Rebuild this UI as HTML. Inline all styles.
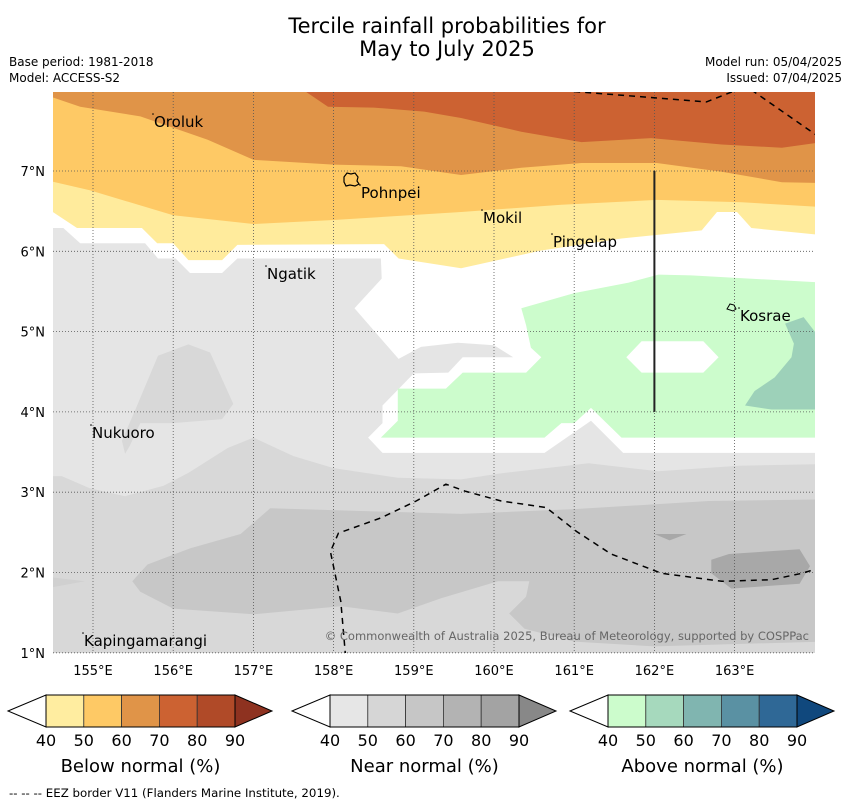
<!DOCTYPE html>
<html><head><meta charset="utf-8"><style>
html,body{margin:0;padding:0;background:#fff;}
svg{display:block;font-family:"DejaVu Sans","Liberation Sans",sans-serif;}
</style></head><body>
<svg id="chart" width="850" height="804" viewBox="0 0 850 804" xmlns="http://www.w3.org/2000/svg">
<defs><clipPath id="mapclip"><rect x="53" y="92" width="762" height="561"/></clipPath></defs>
<text x="447" y="33" font-size="21" text-anchor="middle">Tercile rainfall probabilities for</text>
<text x="447" y="56" font-size="21" text-anchor="middle">May to July 2025</text>
<text x="9" y="66" font-size="12">Base period: 1981-2018</text>
<text x="9" y="82" font-size="12">Model: ACCESS-S2</text>
<text x="842" y="66" font-size="12" text-anchor="end">Model run: 05/04/2025</text>
<text x="842" y="82" font-size="12" text-anchor="end">Issued: 07/04/2025</text>
<g id="map" clip-path="url(#mapclip)"></g>
<g id="grid"></g>
<g id="overlay"></g>
<g id="axes"></g>
<g id="cbars"></g>
<text x="9" y="797" font-size="11.8">--  --  -- EEZ border V11 (Flanders Marine Institute, 2019).</text>
</svg>
<script>
const lonTicks = [155,156,157,158,159,160,161,162,163];
const latTicks = [1,2,3,4,5,6,7];
const cbTicks = [40,50,60,70,80,90];
const belowColors = ["#ffeda0","#fec965","#e09448","#cc6232","#b04a28","#8e3220"];
const nearColors = ["#e6e6e6","#d6d6d6","#c6c6c6","#b3b3b3","#a3a3a3","#888888"];
const aboveColors = ["#ccfccc","#a6d9bd","#80b5b0","#5a91a3","#2f6896","#10487d"];
// contour polygons in [lon, lat]
const greyLight = [[154.4,6.29],[154.63,6.29],[154.84,6.1],[155.65,6.1],[155.81,5.91],[156.03,5.91],[156.21,5.73],[156.61,5.73],[156.8,5.91],[158.59,5.91],[158.6,5.66],[158.26,5.29],[158.81,4.66],[159.09,4.81],[159.55,4.86],[160.0,4.83],[160.24,4.68],[159.61,4.68],[159.43,4.49],[159.0,4.48],[158.61,4.08],[158.61,3.86],[158.43,3.68],[158.61,3.49],[160.63,3.49],[161.21,3.89],[161.61,3.49],[164.1,3.49],[164.1,0.9],[154.4,0.9]];
const greyMid = [[154.4,3.2],[154.61,3.2],[154.96,3.05],[155.4,2.95],[155.88,3.08],[156.19,3.24],[156.68,3.55],[157.0,3.68],[157.5,3.45],[158.0,3.3],[158.8,3.18],[159.59,3.16],[160.05,3.23],[161.18,3.36],[162.05,3.26],[163.05,3.33],[164.1,3.35],[164.1,0.9],[154.4,0.9]];
const greyMidBlob = [[155.55,4.08],[155.81,4.7],[156.19,4.84],[156.46,4.74],[156.75,4.1],[156.61,3.91],[156.0,3.86],[155.59,3.86],[155.46,3.58],[155.4,3.48],[155.36,3.64]];
const greyDark = [[155.49,1.89],[155.68,2.1],[156.21,2.3],[156.84,2.48],[157.21,2.8],[159.59,2.73],[161.0,2.79],[162.68,2.89],[164.1,2.91],[164.1,1.14],[162.0,1.08],[161.0,1.14],[160.38,1.3],[160.19,1.49],[160.4,1.7],[160.44,1.89],[160.05,1.89],[159.34,1.68],[158.8,1.49],[158.09,1.58],[157.0,1.48],[156.0,1.55],[155.59,1.76]];
const greyDarkLeft = [[154.4,1.95],[154.9,1.89],[154.4,1.8]];
const greyDeep1 = [[162.71,2.16],[162.93,2.23],[163.81,2.29],[163.94,2.08],[163.81,1.86],[162.96,1.8],[162.71,1.99]];
const greyDeep2 = [[162.0,2.48],[162.4,2.48],[162.19,2.4]];
const greenLight = [[160.34,5.29],[161.0,5.48],[161.68,5.61],[162.05,5.71],[162.46,5.7],[164.1,5.61],[164.1,3.68],[161.59,3.68],[161.21,4.05],[161.0,3.86],[160.84,3.86],[160.63,3.68],[158.59,3.68],[158.8,3.89],[158.8,4.29],[159.4,4.29],[159.61,4.49],[160.4,4.49],[160.59,4.68],[160.46,4.8],[160.4,5.08]];
const greenHole = [[161.65,4.68],[161.84,4.88],[162.61,4.88],[162.8,4.68],[162.61,4.49],[161.84,4.49]];
const greenMid = [[163.63,5.1],[163.86,5.18],[164.0,5.0],[164.1,4.89],[164.1,4.03],[163.46,4.03],[163.13,4.08],[163.25,4.26],[163.5,4.43],[163.71,4.68],[163.74,4.85]];
const yellowLight = [[154.4,6.49],[154.5,6.49],[154.8,6.29],[155.61,6.29],[155.8,6.1],[156.0,6.1],[156.19,5.89],[156.61,5.89],[156.8,6.08],[158.63,6.09],[158.81,5.91],[159.59,5.79],[160.59,6.01],[161.59,6.16],[162.59,6.26],[162.78,6.49],[163.03,6.49],[163.21,6.29],[164.1,6.2],[164.1,8.1],[154.4,8.1]];
const yellowMid = [[154.4,6.89],[154.96,6.76],[156.0,6.45],[157.0,6.34],[158.0,6.39],[159.59,6.49],[160.84,6.58],[162.03,6.64],[163.09,6.61],[164.1,6.55],[164.1,8.1],[154.4,8.1]];
const orange = [[154.4,7.95],[154.84,7.8],[155.59,7.68],[156.43,7.39],[157.0,7.14],[158.0,7.08],[158.84,7.06],[159.59,6.95],[160.34,7.04],[161.09,7.1],[162.03,7.1],[162.84,6.99],[163.59,6.86],[164.1,6.85],[164.1,8.1],[154.4,8.1]];
const orangeDark = [[157.65,8.1],[157.65,7.99],[157.93,7.8],[158.5,7.79],[159.13,7.74],[159.59,7.66],[160.34,7.49],[161.09,7.36],[161.96,7.41],[162.84,7.33],[163.59,7.29],[164.1,7.36],[164.1,8.1]];
const eezTop1 = [[161.0,7.99],[162.65,7.86],[163.03,8.01]];
const eezTop2 = [[163.21,8.01],[164.03,7.44]];
const eezBottom = [[158.15,0.95],[158.09,1.64],[157.96,2.26],[158.06,2.49],[158.59,2.68],[159.03,2.89],[159.4,3.1],[159.65,3.01],[160.09,2.89],[160.65,2.81],[161.03,2.51],[161.46,2.23],[162.09,1.99],[162.84,1.89],[163.46,1.91],[163.84,1.99],[164.1,2.07]];
const boundaryLine = [[162,4.0],[162,7.0]];

const NS = "http://www.w3.org/2000/svg";
function xOf(lon){return 93 + (lon-155)*80.2;}
function yOf(lat){return 171 - (lat-7)*80.3;}
function pts(a){return a.map(p=>xOf(p[0]).toFixed(1)+","+yOf(p[1]).toFixed(1)).join(" ");}
function mk(tag, attrs, parent){const e=document.createElementNS(NS,tag);for(const k in attrs)e.setAttribute(k,attrs[k]);parent.appendChild(e);return e;}
const map=document.getElementById("map");
function poly(a,fill,name){
  const e=mk("polygon",{points:pts(a),fill:fill},map);
  
  
}
mk("rect",{x:53,y:92,width:762,height:561,fill:"#fff"},map);
poly(greyLight,"#e5e5e5","near-normal-40-50");
poly(greyMid,"#d8d8d8","near-normal-50-60-south");
poly(greyMidBlob,"#d8d8d8","near-normal-50-60-blob");
poly(greyDark,"#c7c7c7","near-normal-60-70");
poly(greyDarkLeft,"#d0d0d0","near-normal-50-60-west");
poly(greyDeep1,"#a8a8a8","near-normal-70-80-east");
poly(greyDeep2,"#a8a8a8","near-normal-70-80-spot");
poly(greenLight,"#ccfccc","above-normal-40-50");
poly(greenHole,"#ffffff","no-signal-hole");
poly(greenMid,"#9dd1b9","above-normal-50-60");
poly(yellowLight,"#ffeb9c","below-normal-40-50");
poly(yellowMid,"#fec965","below-normal-50-60");
poly(orange,"#e09448","below-normal-60-70");
poly(orangeDark,"#cc6232","below-normal-70-80");

const grid=document.getElementById("grid");
lonTicks.forEach(l=>{const e=mk("line",{x1:xOf(l),x2:xOf(l),y1:92,y2:653,stroke:"#555","stroke-width":0.8,"stroke-dasharray":"1,2"},grid);

});
latTicks.forEach(l=>{const e=mk("line",{x1:53,x2:815,y1:yOf(l),y2:yOf(l),stroke:"#555","stroke-width":0.8,"stroke-dasharray":"1,2"},grid);

});

const ov=document.getElementById("overlay");
const g2=mk("g",{"clip-path":"url(#mapclip)"},ov);
[eezTop1,eezTop2,eezBottom].forEach(a=>{const e=mk("polyline",{points:pts(a),fill:"none",stroke:"#000","stroke-width":1.5,"stroke-dasharray":"6,5"},g2);

});
const vl=mk("polyline",{points:pts(boundaryLine),fill:"none",stroke:"#222","stroke-width":2},g2);


const isl1=mk("path",{d:"M344,177 l3,-4 l4,1 l4,-1 l3,4 l-1,4 l2,3 l-4,2 l-5,-1 l-4,1 l-2,-4z",fill:"none",stroke:"#000","stroke-width":1.2},ov);


const isl2=mk("path",{d:"M727,309 l3,-5 l4,1 l2,4 l-3,2z",fill:"none",stroke:"#000","stroke-width":1},ov);


const labels=[["Oroluk",154,127,"oroluk-label"],["Pohnpei",361,198,"pohnpei-label"],["Mokil",483,223,"mokil-label"],["Pingelap",553,247,"pingelap-label"],["Ngatik",267,279,"ngatik-label"],["Kosrae",740,321,"kosrae-label"],["Nukuoro",92,438,"nukuoro-label"],["Kapingamarangi",84,646,"kapingamarangi-label"]];
labels.forEach(l=>{const t=mk("text",{x:l[1],y:l[2],"font-size":15},ov);t.textContent=l[0];


const d=mk("circle",{cx:l[1]-1,cy:l[2]-13,r:0.8,fill:"#000"},ov);

});
const cp=mk("text",{x:809,y:640,"font-size":11.5,"text-anchor":"end",fill:"#666"},ov);
cp.textContent="© Commonwealth of Australia 2025, Bureau of Meteorology, supported by COSPPac";



const ax=document.getElementById("axes");
lonTicks.forEach(l=>{const t=mk("text",{x:xOf(l),y:675,"font-size":13,"text-anchor":"middle"},ax);t.textContent=l+"°E";

});
latTicks.forEach(l=>{const t=mk("text",{x:45,y:yOf(l)+5,"font-size":13,"text-anchor":"end"},ax);t.textContent=l+"°N";

});

const cb=document.getElementById("cbars");
function colorbar(x0,colors,title,name){
  const w=37.8, y0=695, h=32, n=5;
  const g=mk("g",{},cb);
  
  
  mk("polygon",{points:`${x0-38},${y0+h/2} ${x0},${y0} ${x0},${y0+h}`,fill:"#fff",stroke:"#000","stroke-width":1},g);
  for(let i=0;i<n;i++){const r=mk("rect",{x:x0+i*w,y:y0,width:w,height:h,fill:colors[i],stroke:"#333","stroke-width":0.8},g);
    
    }
  const xe=x0+n*w;
  mk("polygon",{points:`${xe},${y0} ${xe+37},${y0+h/2} ${xe},${y0+h}`,fill:colors[5],stroke:"#000","stroke-width":1},g);
  mk("rect",{x:x0,y:y0,width:n*w,height:h,fill:"none",stroke:"#000","stroke-width":1},g);
  cbTicks.forEach((v,i)=>{const t=mk("text",{x:x0+i*w,y:746,"font-size":16,"text-anchor":"middle"},g);t.textContent=v;
    
    });
  const t=mk("text",{x:x0+n*w/2,y:772,"font-size":18,"text-anchor":"middle"},g);t.textContent=title;
  
  
}
colorbar(46,belowColors,"Below normal (%)","below-normal-colorbar");
colorbar(330,nearColors,"Near normal (%)","near-normal-colorbar");
colorbar(608,aboveColors,"Above normal (%)","above-normal-colorbar");
</script>
</body></html>
